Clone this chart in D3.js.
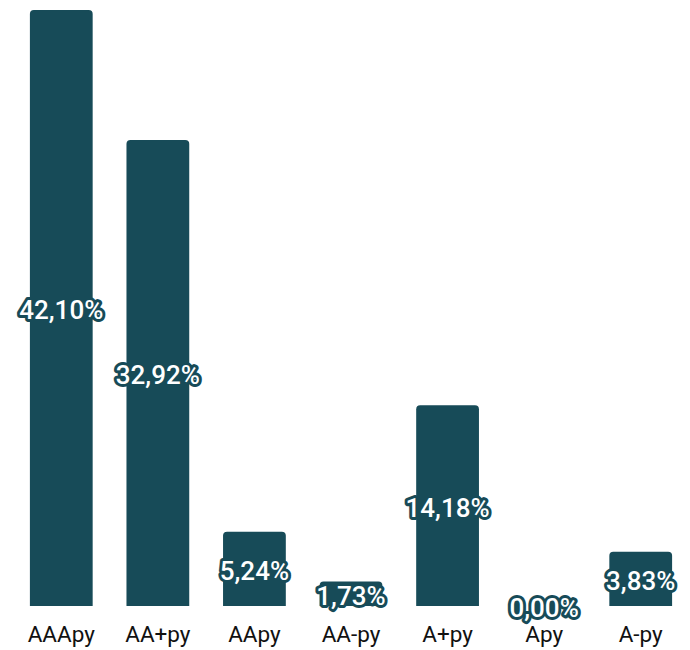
<!DOCTYPE html>
<html><head><meta charset="utf-8">
<script src="https://cdn.jsdelivr.net/npm/d3@7"></script>
<style>body{margin:0;background:#fff;} svg{display:block;}</style>
</head><body>
<svg id="c" width="690" height="650"></svg>
<script>
const categories = ["AAApy","AA+py","AApy","AA-py","A+py","Apy","A-py"];
const values = [42.10, 32.92, 5.24, 1.73, 14.18, 0.00, 3.83];
const labels = ["42,10%","32,92%","5,24%","1,73%","14,18%","0,00%","3,83%"];

const svg = d3.select("#c");
const color = "#174b58";
const x = d3.scaleBand().domain(categories).range([13, 689]).paddingInner(0.35).paddingOuter(0.175);
const y = d3.scaleLinear().domain([0, 42.10]).range([606, 10]);
const r = 4;

function barPath(x0, w, yt, yb){
  const h = yb - yt;
  const rr = Math.min(r, h, w/2);
  if (h <= 0) return "";
  return `M${x0},${yb}V${yt+rr}Q${x0},${yt} ${x0+rr},${yt}H${x0+w-rr}Q${x0+w},${yt} ${x0+w},${yt+rr}V${yb}Z`;
}

svg.append("g").selectAll("path").data(values).join("path")
  .attr("d",(d,i)=>barPath(x(categories[i]), x.bandwidth(), y(d), y(0)))
  .attr("fill", color);

svg.append("g").call(d3.axisBottom(x).tickSize(0).tickPadding(0))
  .attr("transform","translate(0,606)")
  .call(g=>g.select(".domain").remove())
  .selectAll("text")
  .attr("dy", null).attr("y", 36)
  .attr("font-family","Roboto").attr("font-size", 22.5).attr("fill","#111");

const lg = svg.append("g").attr("font-family","Roboto").attr("font-size",26).attr("font-weight",500)
  .attr("text-anchor","middle");
lg.selectAll("text").data(values).join("text")
  .attr("x",(d,i)=>x(categories[i]) + x.bandwidth()/2)
  .attr("y",d=>(y(d)+y(0))/2 + 2)
  .attr("dy","0.36em")
  .attr("fill","#fff")
  .attr("stroke", color).attr("stroke-width",6).attr("stroke-linejoin","round")
  .attr("paint-order","stroke")
  .text((d,i)=>labels[i]);
</script>
</body></html>
